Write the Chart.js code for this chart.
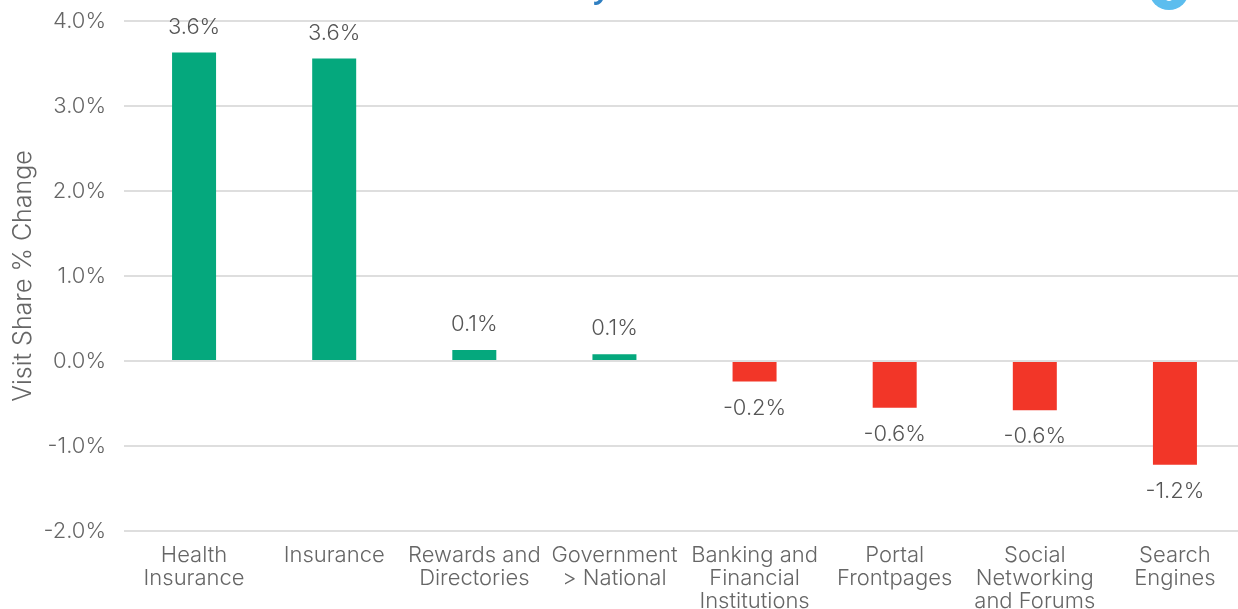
<!DOCTYPE html>
<html>
<head>
<meta charset="utf-8">
<title>Visit Share % Change</title>
<script src="https://cdn.jsdelivr.net/npm/chart.js@4"></script>
<style>
    html, body { margin: 0; padding: 0; background: #fff; overflow: hidden; width: 1238px; height: 609px; }
    #stage { position: relative; width: 1238px; height: 609px; overflow: hidden; }
    #shareChart { position: absolute; left: 0; top: 0; }
    #heading { position: absolute; left: 596px; top: -26px; font: italic 700 27px "Open Sans", sans-serif; line-height: 30px; color: #2f7fc1; }
    #badge { position: absolute; left: 1149px; top: -30px; width: 40px; height: 40px; border-radius: 50%; background: #5cbdee; }
    #badge i { position: absolute; left: 14px; top: 14px; width: 12px; height: 17px; border-radius: 50%; background: #fff; }
</style>
</head>
<body>
<div id="stage">
    <canvas id="shareChart" width="1246" height="609"></canvas>
    <div id="heading">y</div>
    <div id="badge"><i></i></div>
</div>
<script>
const categories = [
    ['Health', 'Insurance'],
    'Insurance',
    ['Rewards and', 'Directories'],
    ['Government', '> National'],
    ['Banking and', 'Financial', 'Institutions'],
    ['Portal', 'Frontpages'],
    ['Social', 'Networking', 'and Forums'],
    ['Search', 'Engines']
];
const shareChange = [3.63, 3.56, 0.13, 0.08, -0.24, -0.55, -0.58, -1.22];
const yMin = -2;
const yMax = 4;

const GREEN = '#05a87d';
const RED = '#f23628';
const GRID = '#dedede';
const FONT = 'Inter, sans-serif';

// value labels sit above positive bars and below negative ones
const barLabels = {
    id: 'barLabels',
    afterDatasetsDraw(chart) {
        const ctx = chart.ctx;
        ctx.save();
        ctx.font = '300 22px ' + FONT;
        ctx.fillStyle = '#555';
        ctx.textAlign = 'center';
        ctx.textBaseline = 'middle';
        chart.getDatasetMeta(0).data.forEach((bar, i) => {
            const v = shareChange[i];
            const y = v >= 0 ? bar.y - 25.5 : bar.y + 26.5;
            ctx.fillText(v.toFixed(1) + '%', bar.x, y);
        });
        ctx.restore();
    }
};

// the zero line stays on top of the bars
const zeroLine = {
    id: 'zeroLine',
    afterDatasetsDraw(chart) {
        const { ctx, chartArea, scales } = chart;
        const y = scales.y.getPixelForValue(0);
        ctx.save();
        ctx.strokeStyle = GRID;
        ctx.lineWidth = 2;
        ctx.beginPath();
        ctx.moveTo(chartArea.left, y);
        ctx.lineTo(chartArea.right, y);
        ctx.stroke();
        ctx.restore();
    }
};

new Chart(document.getElementById('shareChart'), {
    type: 'bar',
    data: {
        labels: categories,
        datasets: [{
            data: shareChange,
            backgroundColor: shareChange.map(v => (v >= 0 ? GREEN : RED)),
            borderWidth: 0,
            categoryPercentage: 1,
            barPercentage: 0.314
        }]
    },
    options: {
        responsive: false,
        animation: false,
        layout: { padding: { top: 21, right: 1, bottom: 0, left: 0 } },
        plugins: {
            legend: { display: false },
            tooltip: { enabled: false }
        },
        scales: {
            x: {
                grid: { display: false, drawTicks: false },
                border: { display: false },
                afterFit(scale) {
                    scale.height = 78;
                    scale.paddingLeft = 0;
                    scale.paddingRight = 0;
                },
                ticks: {
                    autoSkip: false,
                    maxRotation: 0,
                    minRotation: 0,
                    padding: 13,
                    color: '#666',
                    font: { family: FONT, size: 22, weight: '300', lineHeight: '23px' }
                }
            },
            y: {
                min: yMin,
                max: yMax,
                grid: { color: GRID, lineWidth: 2, drawTicks: false },
                border: { display: false },
                afterFit(scale) {
                    scale.width = 124;
                    scale.paddingTop = 0;
                    scale.paddingBottom = 0;
                },
                title: {
                    display: true,
                    text: 'Visit Share % Change',
                    color: '#666',
                    padding: { top: 9, bottom: 0 },
                    font: { family: FONT, size: 25, weight: '300', lineHeight: '28px' }
                },
                ticks: {
                    stepSize: 1,
                    padding: 18,
                    color: '#666',
                    font: { family: FONT, size: 22, weight: '300' },
                    callback: v => v.toFixed(1) + '%'
                }
            }
        }
    },
    plugins: [barLabels, zeroLine]
});
</script>
</body>
</html>
